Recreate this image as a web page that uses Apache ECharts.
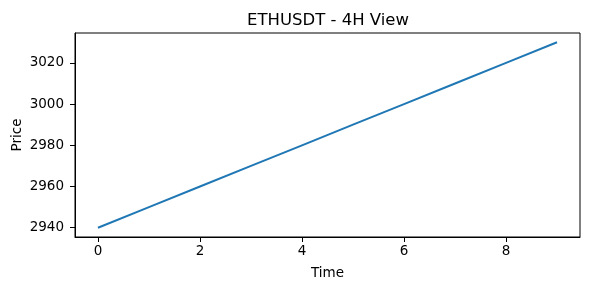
<!DOCTYPE html>
<html><head><meta charset="utf-8">
<script src="https://cdn.jsdelivr.net/npm/echarts@6/dist/echarts.min.js"></script>
<style>html,body{margin:0;padding:0;background:#fff}#c{width:590px;height:290px}</style>
</head><body><div id="c"></div>
<script>
const timeIdx = [0,1,2,3,4,5,6,7,8,9];
const prices = [2940,2950,2960,2970,2980,2990,3000,3010,3020,3030];
const xTicks = [0,2,4,6,8];
const yTicks = [2940,2960,2980,3000,3020];
const titleText = 'ETHUSDT - 4H View';
const xName = 'Time';
const yName = 'Price';

const font = 'DejaVu Sans';
const chart = echarts.init(document.getElementById('c'), null, {renderer:'canvas'});
chart.setOption({
  animation:false,
  backgroundColor:'#fff',
  title:{text:titleText,left:247,top:12,padding:0,
    textStyle:{fontFamily:font,fontSize:16.5,fontWeight:'normal',color:'#000'}},
  grid:{left:75,right:10,top:33,bottom:53,outerBoundsMode:'none',containLabel:false,show:true,borderColor:'#000',borderWidth:1,backgroundColor:'transparent'},
  xAxis:{type:'value',min:-0.45,max:9.45,
    name:xName,nameLocation:'middle',nameGap:29,nameMoveOverlap:false,
    nameTextStyle:{fontFamily:font,fontSize:13.5,color:'#000'},
    axisLine:{show:true,onZero:false,lineStyle:{color:'#000',width:1}},
    axisTick:{show:true,length:5,customValues:xTicks,lineStyle:{color:'#000'}},
    axisLabel:{customValues:xTicks,margin:7,fontFamily:font,fontSize:13.5,color:'#000',formatter:v=>String(v)},
    splitLine:{show:false}},
  yAxis:{type:'value',min:2935.5,max:3034.5,
    name:yName,nameLocation:'middle',nameGap:51,nameRotate:90,nameMoveOverlap:false,
    nameTextStyle:{fontFamily:font,fontSize:13.5,color:'#000'},
    axisLine:{show:true,onZero:false,lineStyle:{color:'#000',width:1}},
    axisTick:{show:true,length:5,customValues:yTicks,lineStyle:{color:'#000'}},
    axisLabel:{customValues:yTicks,margin:11,fontFamily:font,fontSize:13.5,color:'#000',formatter:v=>String(v)},
    splitLine:{show:false}},
  series:[{type:'line',data:timeIdx.map((t,i)=>[t,prices[i]]),showSymbol:false,
    lineStyle:{color:'#1f77b4',width:2},itemStyle:{color:'#1f77b4'}}]
});
</script></body></html>
